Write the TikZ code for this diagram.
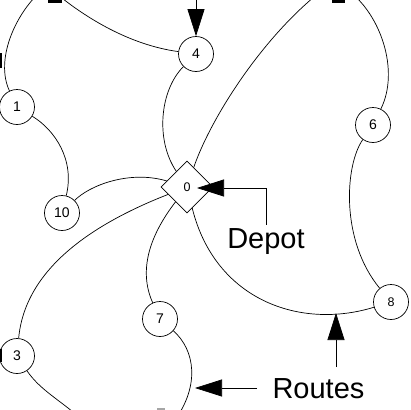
\documentclass[tikz,border=0pt]{standalone}
\usepackage{fontspec}
\setmainfont{Liberation Sans}
\usetikzlibrary{shapes.geometric,arrows.meta}
\begin{document}
\begin{tikzpicture}[x=1pt,y=-1pt,
  cust/.style={circle,draw,line width=0.7pt,minimum size=35pt,inner sep=0pt,font=\fontsize{14}{16}\selectfont},
  smallcust/.style={cust,font=\fontsize{12.5}{15}\selectfont},
  depotnode/.style={diamond,draw,line width=0.7pt,minimum width=52pt,minimum height=52pt,inner sep=0pt,font=\fontsize{12.5}{15}\selectfont},
  route/.style={line width=0.7pt},
  callout/.style={line width=0.7pt,-{Triangle[length=27pt,width=17pt]}},
  bigtext/.style={font=\fontsize{29}{33}\selectfont,inner sep=3pt},
  cropmark/.style={fill=black,draw=none}]
\useasboundingbox (0,0) rectangle (410,410);
\clip (0,0) rectangle (410,410);
\fill[white] (0,0) rectangle (410,410);
% nodes
\node[depotnode] (n0) at (187,187) {0};
\node[cust] (n4) at (196,54) {4};
\node[cust] (n1) at (17,107) {1};
\node[cust] (n6) at (373,125) {6};
\node[cust] (n10) at (62,213) {10};
\node[cust] (n7) at (160,319) {7};
\node[cust] (n3) at (17,356) {3};
\node[smallcust] (n8) at (391,302) {8};
% off-frame route ends
\coordinate (c2a) at (52,-10);
\coordinate (c2b) at (40,-8);
\coordinate (c5a) at (320,-8);
\coordinate (c5b) at (350,-8);
\coordinate (c9a) at (175,420);
\coordinate (c9b) at (80,418);
% route A
\draw[route] (n0) .. controls (155,140) and (160,90) .. (n4);
\draw[route] (n4) .. controls (130,45) and (85,18) .. (c2a);
\draw[route] (c2b) .. controls (15,15) and (-5,60) .. (n1);
\draw[route] (n1) .. controls (55,130) and (75,160) .. (n10);
\draw[route] (n10) .. controls (90,185) and (130,170) .. (n0);
% route B
\draw[route] (n0) .. controls (210,120) and (260,40) .. (c5a);
\draw[route] (c5b) .. controls (380,15) and (400,70) .. (n6);
\draw[route] (n6) .. controls (345,165) and (340,240) .. (n8);
\draw[route] (n8) .. controls (300,330) and (215,300) .. (n0);
% route C
\draw[route] (n0) .. controls (150,235) and (138,270) .. (n7);
\draw[route] (n7) .. controls (195,350) and (200,385) .. (c9a);
\draw[route] (c9b) .. controls (60,400) and (40,390) .. (n3);
\draw[route] (n3) .. controls (25,270) and (90,225) .. (n0);
% cropped marks
\fill[cropmark] (48,0) rectangle (62,2.5);
\fill[cropmark] (332,0) rectangle (345,2.5);
\fill[cropmark] (0,53) rectangle (1.5,68);
\fill[cropmark] (0,349) rectangle (1.5,362);
\fill[black!35] (157,407.5) rectangle (165,410);
% labels and callouts
\node[bigtext,anchor=base] (depot) at (266,248) {Depot};
\node[bigtext,anchor=base] (routes) at (318.5,398) {Routes};
\coordinate (dtip) at (197,188);
\draw[callout] (depot.north) |- (dtip);
\coordinate (topin) at (196,-2);
\draw[callout] (topin) -- (n4);
\coordinate (r1s) at (336,367);
\coordinate (r1t) at (336,313);
\draw[callout] (r1s) -- (r1t);
\coordinate (r2s) at (257,388);
\coordinate (r2t) at (195,388);
\draw[callout] (r2s) -- (r2t);
\end{tikzpicture}
\end{document}
